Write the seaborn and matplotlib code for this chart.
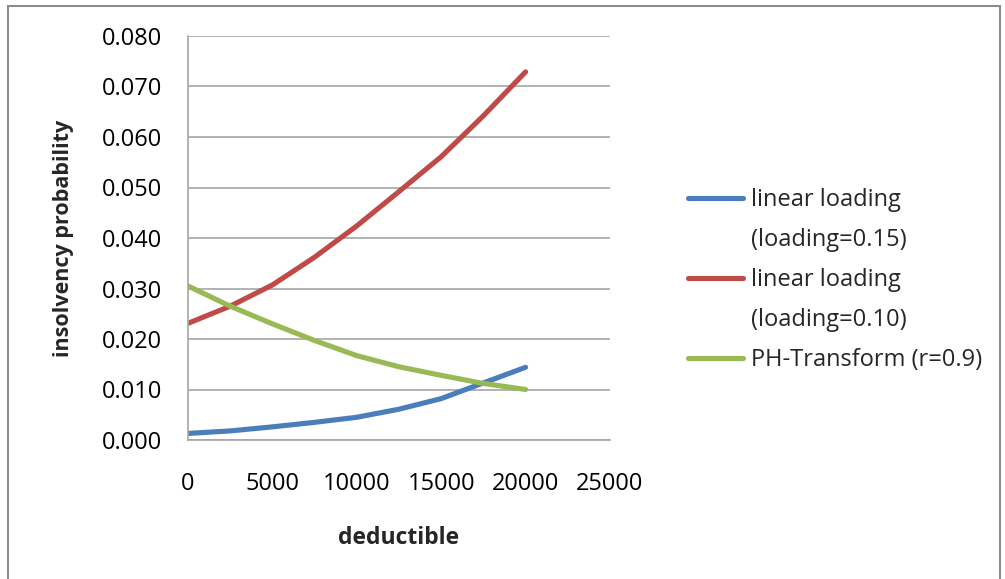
import numpy as np
import pandas as pd
import seaborn as sns
import matplotlib
matplotlib.use("Agg")
import matplotlib.pyplot as plt
from matplotlib.lines import Line2D
from matplotlib.patches import Rectangle

deductible = [0, 2500, 5000, 7500, 10000, 12500, 15000, 17500, 20000]
linear_015 = [0.0013, 0.0018, 0.0026, 0.0035, 0.0045, 0.0061, 0.0082, 0.0113, 0.0144]
linear_010 = [0.0231, 0.0265, 0.0307, 0.0362, 0.0424, 0.0492, 0.0561, 0.0642, 0.0729]
ph_transform = [0.0305, 0.0265, 0.0230, 0.0197, 0.0167, 0.0145, 0.0128, 0.0112, 0.0100]
series_names = ["linear loading (loading=0.15)", "linear loading (loading=0.10)", "PH-Transform (r=0.9)"]
colors = ["#4a7ebb", "#be4b48", "#98b954"]
y_ticks = [0.0, 0.01, 0.02, 0.03, 0.04, 0.05, 0.06, 0.07, 0.08]
x_ticks = [0, 5000, 10000, 15000, 20000, 25000]

df = pd.DataFrame({
    "deductible": deductible * 3,
    "prob": linear_015 + linear_010 + ph_transform,
    "series": sum([[n] * len(deductible) for n in series_names], []),
})

sns.set_theme(style="white")
plt.rcParams["font.family"] = ["Open Sans", "DejaVu Sans"]

W, H = 1005, 579
fig = plt.figure(figsize=(W / 100, H / 100), dpi=100)
fig.patches.append(Rectangle((8 / W, -0.01), 992 / W, 1 - 6 / H + 0.01, transform=fig.transFigure,
                             fill=False, edgecolor="#8c8c8c", linewidth=1.5))
ax = fig.add_axes([188 / W, 1 - 440 / H, (610 - 188) / W, (440 - 36) / H])

sns.lineplot(data=df, x="deductible", y="prob", hue="series", palette=colors,
             hue_order=series_names, linewidth=3.7, ax=ax, legend=False)
for ln in ax.lines:
    ln.set_solid_capstyle("round")
    ln.set_solid_joinstyle("round")

ax.set_xlim(0, 25000)
ax.set_ylim(0, 0.08)
ax.set_xticks(x_ticks)
ax.set_yticks(y_ticks)
ax.set_yticklabels([f"{v:.3f}" for v in y_ticks])
ax.yaxis.grid(True, color="#a6a6a6", linewidth=1.2)
ax.xaxis.grid(False)
ax.set_axisbelow(True)
for s in ["top", "right"]:
    ax.spines[s].set_visible(False)
for s in ["left", "bottom"]:
    ax.spines[s].set_color("#a6a6a6")
    ax.spines[s].set_linewidth(1.2)
ax.tick_params(axis="both", length=0, labelsize=17, colors="#000000")
ax.tick_params(axis="y", pad=18.7)
ax.tick_params(axis="x", pad=23)
ax.set_xlabel("deductible", fontsize=16.5, fontweight="bold", labelpad=22)
ax.set_ylabel("insolvency probability", fontsize=15.5, fontweight="bold", labelpad=20)

handles = [
    Line2D([], [], color=colors[0], linewidth=3.7),
    Line2D([], [], color="none"),
    Line2D([], [], color=colors[1], linewidth=3.7),
    Line2D([], [], color="none"),
    Line2D([], [], color=colors[2], linewidth=3.7),
]
labels = ["linear loading", "(loading=0.15)", "linear loading", "(loading=0.10)", "PH-Transform (r=0.9)"]
fig.legend(handles, labels, loc="upper left", bbox_to_anchor=(679 / W, 1 - 178.5 / H),
           frameon=False, fontsize=17, handlelength=2.29, handletextpad=0.34,
           labelspacing=0.68, borderaxespad=0)

fig.savefig("out.png", dpi=100)
